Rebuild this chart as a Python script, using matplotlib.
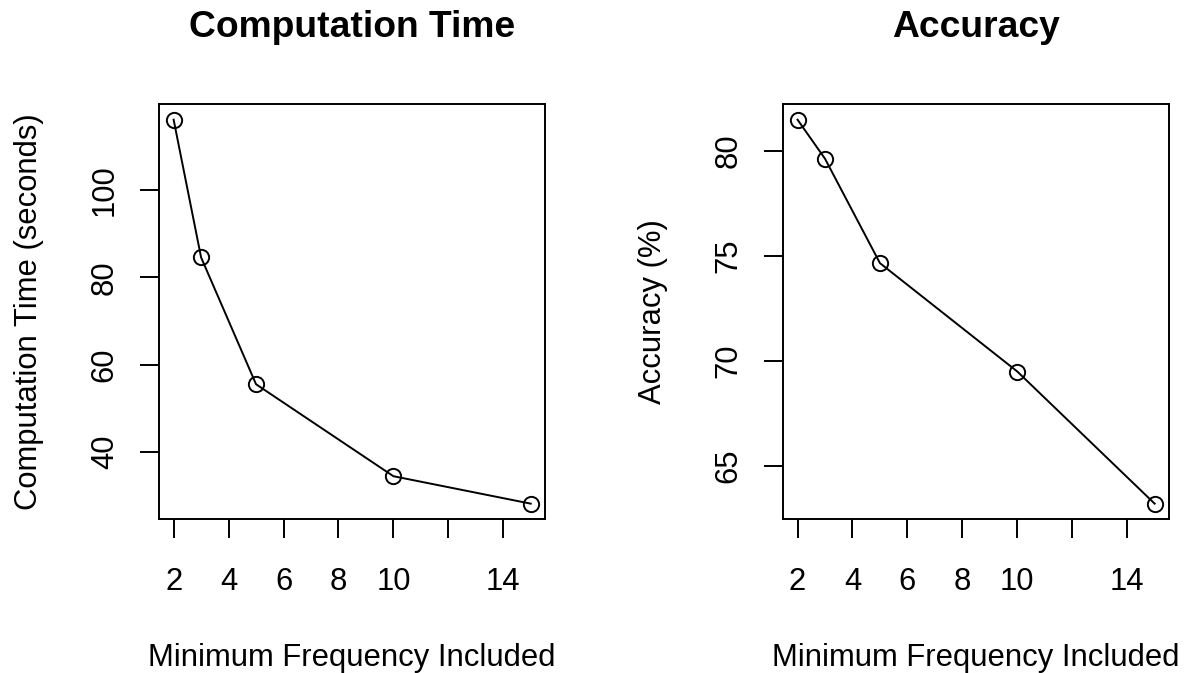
import matplotlib
matplotlib.use('Agg')
from matplotlib import pyplot as plt

min_freq = [2, 3, 5, 10, 15]
comp_time = [116.2, 84.6, 55.5, 34.4, 28.1]
accuracy = [81.48, 79.62, 74.65, 69.49, 63.2]

x_ticks = [2, 4, 6, 8, 10, 12, 14]
x_tick_labels = ['2', '4', '6', '8', '10', '', '14']
time_ticks = [40, 60, 80, 100]
acc_ticks = [65, 70, 75, 80]

plt.rcParams['font.family'] = ['Liberation Sans', 'DejaVu Sans']
FS = 22.3
LW = 1.4


def r_range(values):
    lo, hi = min(values), max(values)
    ext = 0.04 * (hi - lo)
    return lo - ext, hi + ext


def draw_panel(ax, x, y, title, ylabel, yticks):
    ax.plot(x, y, color='black', linewidth=LW, marker='o', markersize=11,
            markerfacecolor='none', markeredgecolor='black',
            markeredgewidth=LW)
    ax.set_xlim(*r_range(x))
    ax.set_ylim(*r_range(y))
    ax.set_xticks(x_ticks)
    ax.set_xticklabels(x_tick_labels, fontsize=FS)
    ax.set_yticks(yticks)
    ax.set_yticklabels([str(t) for t in yticks], fontsize=FS,
                       rotation=90, va='center')
    ax.tick_params(axis='both', direction='out', length=14, width=LW,
                   color='black')
    ax.tick_params(axis='x', pad=20.5)
    ax.tick_params(axis='y', pad=14.5)
    for sp in ax.spines.values():
        sp.set_linewidth(LW)
        sp.set_color('black')
    ax.set_title(title, fontsize=26.8, fontweight='bold', pad=48.5)
    ax.set_xlabel('Minimum Frequency Included', fontsize=FS, va='top')
    ax.xaxis.set_label_coords(0.5, -0.299)
    ax.set_ylabel(ylabel, fontsize=FS)
    ax.yaxis.set_label_coords(-0.299, 0.5)


fig = plt.figure(figsize=(11.9, 6.73), dpi=100)
ax1 = fig.add_axes([0.1339, 0.2288, 0.3241, 0.6162])
ax2 = fig.add_axes([0.6582, 0.2288, 0.3241, 0.6162])

draw_panel(ax1, min_freq, comp_time, 'Computation Time',
           'Computation Time (seconds)', time_ticks)
draw_panel(ax2, min_freq, accuracy, 'Accuracy', 'Accuracy (%)', acc_ticks)

fig.savefig('out.png', dpi=100)
